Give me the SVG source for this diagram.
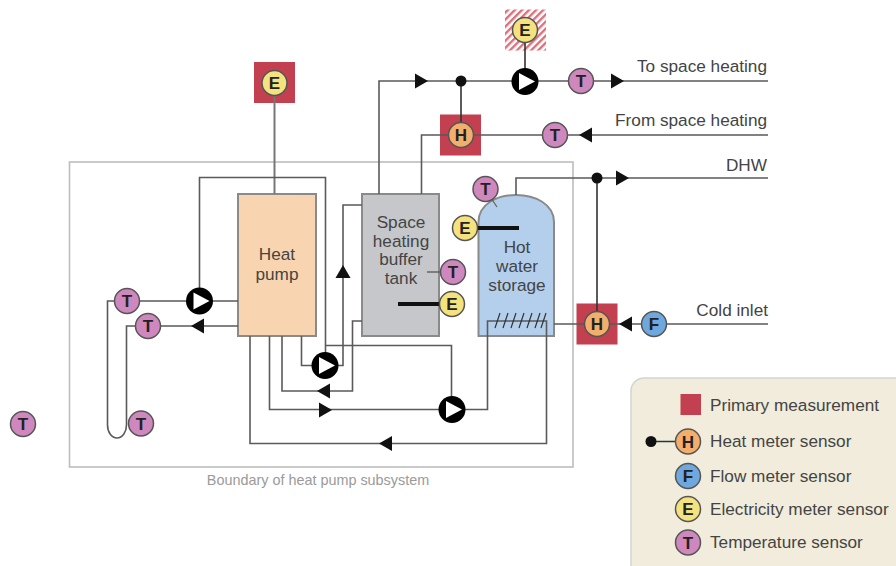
<svg xmlns="http://www.w3.org/2000/svg" xmlns:xlink="http://www.w3.org/1999/xlink" width="896" height="566" viewBox="0 0 896 566">
<style>
text{font-family:"Liberation Sans",Arial,sans-serif;fill:#444}
.lbl{font-size:17.2px}
.leg{font-size:17.2px}
.nt{font-size:17.2px;text-anchor:middle}
.pipe{fill:none;stroke:#5a5a5a;stroke-width:1.6}
.dark{fill:none;stroke:#333;stroke-width:1.6}
.thick{fill:none;stroke:#111;stroke-width:4}
.s{stroke:#555;stroke-width:1.5}
.T{fill:#cf88bd}.H{fill:#f3ae6c}.F{fill:#6fa8dc}.E{fill:#f3e27d}
.sl{font-size:17px;font-weight:bold;text-anchor:middle;fill:#222}
.prim{fill:#c2404f}
.tank{stroke:#8a8a8a;stroke-width:2}
</style>
<defs>
<pattern id="hatch" width="5" height="5" patternUnits="userSpaceOnUse" patternTransform="rotate(-45)">
<rect width="5" height="5" fill="#fff"/><rect width="5" height="2.4" fill="#d9707c"/>
</pattern>
<path id="arr" d="M-6,-7.5L7,0L-6,7.5Z" fill="#111"/>
<g id="pump"><circle r="13.5" fill="#000"/><path d="M-6,-8.5L10,0L-6,8.5Z" fill="#fff"/></g>
</defs>
<rect id="boundary" x="69.500" y="162" width="503.500" height="305" fill="none" stroke="#bdbdbd" stroke-width="1.600"/>
<text x="318" y="484.500" font-size="14.400" text-anchor="middle" style="fill:#9a9a9a">Boundary of heat pump subsystem</text>
<rect id="primary-e" class="prim" x="254" y="62" width="41" height="41"/>
<rect id="primary-e-hatch" x="505" y="9.500" width="41" height="41" fill="url(#hatch)"/>
<rect id="primary-h1" class="prim" x="440" y="114.500" width="41" height="41"/>
<rect id="primary-h2" class="prim" x="576.500" y="303.500" width="41" height="41"/>
<g id="heat-pump"><rect class="tank" x="238" y="194" width="78" height="142" fill="#f8d5b0"/><text class="nt" x="277" y="260">Heat</text><text class="nt" x="277" y="280">pump</text></g>
<g id="buffer-tank"><rect class="tank" x="362" y="194" width="77" height="142" fill="#c6c7cb"/><text class="nt" x="401" y="228">Space</text><text class="nt" x="401" y="247">heating</text><text class="nt" x="401" y="265">buffer</text><text class="nt" x="401" y="284">tank</text></g>
<g id="hot-water-storage"><path class="tank" d="M478.500,336V222C478.500,204 497,195 516,195C535,195 554,204 554,222V336Z" fill="#b3cfec"/><text class="nt" x="517" y="253">Hot</text><text class="nt" x="517" y="272">water</text><text class="nt" x="517" y="291">storage</text></g>
<g id="connectors">
<path class="pipe" d="M274.500,83V194" stroke-width="2" style="stroke:#777;stroke-width:2"/>
<path class="pipe" d="M127,301H238M148,326H238M127,301H107.500V425A9.500,13 0 0 0 126.500,425V326H148"/>
<path class="pipe" d="M199.500,301V177.500H325.500V365"/>
<path class="pipe" d="M325.500,345.500H451.500V409"/>
<path class="pipe" d="M301.500,336V365.500H343V205H362"/>
<path class="pipe" d="M282,336V391H352.500V321H362"/>
<path class="pipe" d="M269.500,336V409.500H487.500V321H546.500V443.500H250V336"/>
<path class="pipe" d="M379,194V81H768"/>
<path class="pipe" d="M421.500,194V135H768"/>
<path class="pipe" d="M516,195V178H768"/>
<path class="pipe" d="M554,324H768"/>
<path class="dark" d="M461,81V135M597,178V324M525,30V81"/>
<path class="dark" d="M485,189L497,207M427,272H452" style="stroke:#666;stroke-width:1.300"/>
<path class="thick" d="M465,228H519M398,304H452"/>
<path class="dark" d="M495,328L500,313M503,328L508,313M511,328L516,313M519,328L524,313M527,328L532,313M535,328L540,313M541,328L546,313" style="stroke-width:1.200"/>
<circle cx="461" cy="81" r="5.500" fill="#111"/>
<circle cx="597" cy="178" r="5.500" fill="#111"/>
<use xlink:href="#arr" href="#arr" transform="translate(421,81)"/>
<use xlink:href="#arr" href="#arr" transform="translate(617,81)"/>
<use xlink:href="#arr" href="#arr" transform="translate(586,135) rotate(180)"/>
<use xlink:href="#arr" href="#arr" transform="translate(622,178)"/>
<use xlink:href="#arr" href="#arr" transform="translate(626,324) rotate(180)"/>
<use xlink:href="#arr" href="#arr" transform="translate(198,326) rotate(180)"/>
<use xlink:href="#arr" href="#arr" transform="translate(343,272) rotate(-90)"/>
<use xlink:href="#arr" href="#arr" transform="translate(324,391) rotate(180)"/>
<use xlink:href="#arr" href="#arr" transform="translate(325,410)"/>
<use xlink:href="#arr" href="#arr" transform="translate(386,443.500) rotate(180)"/>
<use xlink:href="#pump" href="#pump" transform="translate(199.500,301)"/>
<use xlink:href="#pump" href="#pump" transform="translate(325,365.500)"/>
<use xlink:href="#pump" href="#pump" transform="translate(452,409.500)"/>
<use xlink:href="#pump" href="#pump" transform="translate(525,81.500)"/>
</g>
<g id="s-e1"><circle class="s E" cx="274.500" cy="83" r="12.500"/><text class="sl" x="274.500" y="89">E</text></g>
<g id="s-e2"><circle class="s E" cx="525" cy="30" r="12.500"/><text class="sl" x="525" y="36">E</text></g>
<g id="s-h1"><circle class="s H" cx="461" cy="135" r="12.500"/><text class="sl" x="461" y="141">H</text></g>
<g id="s-h2"><circle class="s H" cx="597" cy="324" r="12.500"/><text class="sl" x="597" y="330">H</text></g>
<g id="s-f"><circle class="s F" cx="654" cy="324" r="12.500"/><text class="sl" x="654" y="330">F</text></g>
<g id="s-t1"><circle class="s T" cx="581" cy="81" r="12.500"/><text class="sl" x="581" y="87">T</text></g>
<g id="s-t2"><circle class="s T" cx="555" cy="135" r="12.500"/><text class="sl" x="555" y="141">T</text></g>
<g id="s-t3"><circle class="s T" cx="485.500" cy="189" r="12.500"/><text class="sl" x="485.500" y="195">T</text></g>
<g id="s-e3"><circle class="s E" cx="465" cy="228" r="12.500"/><text class="sl" x="465" y="234">E</text></g>
<g id="s-t4"><circle class="s T" cx="453" cy="272" r="12.500"/><text class="sl" x="453" y="278">T</text></g>
<g id="s-e4"><circle class="s E" cx="452" cy="304" r="12.500"/><text class="sl" x="452" y="310">E</text></g>
<g id="s-t5"><circle class="s T" cx="127" cy="301" r="12.500"/><text class="sl" x="127" y="307">T</text></g>
<g id="s-t6"><circle class="s T" cx="148" cy="326" r="12.500"/><text class="sl" x="148" y="332">T</text></g>
<g id="s-t7"><circle class="s T" cx="141" cy="423.500" r="12.500"/><text class="sl" x="141" y="429.500">T</text></g>
<g id="s-t8"><circle class="s T" cx="23" cy="424" r="12.500"/><text class="sl" x="23" y="430">T</text></g>
<text class="lbl" x="767" y="72" text-anchor="end">To space heating</text>
<text class="lbl" x="767" y="126" text-anchor="end">From space heating</text>
<text class="lbl" x="767" y="171" text-anchor="end">DHW</text>
<text class="lbl" x="768" y="316" text-anchor="end">Cold inlet</text>
<g id="legend">
<rect x="631" y="378" width="290" height="210" rx="13" fill="#f1ecdc" stroke="#d4d4d0" stroke-width="1.500"/>
<rect class="prim" x="680.500" y="394" width="20.500" height="21"/>
<text class="leg" x="710" y="411">Primary measurement</text>
<path class="dark" d="M651,441.500H688"/><circle cx="651" cy="441.500" r="5.500" fill="#111"/>
<circle class="s H" cx="688" cy="441.500" r="12.500"/><text class="sl" x="688" y="447.500">H</text>
<text class="leg" x="710" y="447">Heat meter sensor</text>
<circle class="s F" cx="688" cy="476" r="12.500"/><text class="sl" x="688" y="482">F</text>
<text class="leg" x="710" y="482">Flow meter sensor</text>
<circle class="s E" cx="688" cy="509" r="12.500"/><text class="sl" x="688" y="515">E</text>
<text class="leg" x="710" y="515">Electricity meter sensor</text>
<circle class="s T" cx="688" cy="542.500" r="12.500"/><text class="sl" x="688" y="548.500">T</text>
<text class="leg" x="710" y="548">Temperature sensor</text>
</g>
</svg>
